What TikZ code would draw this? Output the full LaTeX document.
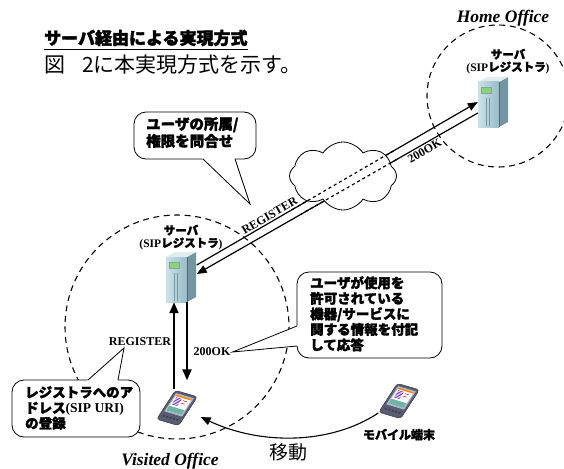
\documentclass[tikz,border=0pt]{standalone}
\usepackage{fontspec}
\setmainfont{Liberation Serif}
\newfontfamily\jp{Noto Sans CJK JP}[BoldFeatures={FakeBold=2}]
\usetikzlibrary{arrows.meta,calc,positioning,shapes.symbols}

\definecolor{srvlight}{RGB}{204,226,232}
\definecolor{srvmid}{RGB}{150,188,199}
\definecolor{srvside}{RGB}{116,150,162}
\definecolor{srvtop}{RGB}{226,236,239}
\definecolor{srvpanel}{RGB}{140,158,164}
\definecolor{srvlcd}{RGB}{136,214,112}
\definecolor{pdabody}{RGB}{88,92,116}
\definecolor{pdarim}{RGB}{176,180,196}
\definecolor{pdateal}{RGB}{112,178,166}

\tikzset{
  office/.style={line width=1.1pt, dash pattern=on 6pt off 4.5pt},
  msg/.style={line width=1.2pt},
  msgtip/.style={msg, -{Triangle[length=10pt,width=8pt]}},
  flow/.style={line width=2pt, -{Triangle[length=11pt,width=9pt]}},
  move/.style={line width=1.1pt, -{Triangle[length=10pt,width=8pt]}},
  bubble/.style={line width=0.8pt, rounded corners=12pt, fill=white},
  bubbleline/.style={line width=0.8pt},
  tag/.style={font=\bfseries\fontsize{12}{12}\selectfont, inner sep=2pt},
  note/.style={font=\jp\bfseries\fontsize{13.5}{15.5}\selectfont, align=left,
    inner sep=0pt, anchor=north west},
  srvtag/.style={font=\bfseries\fontsize{11.5}{12.5}\selectfont, align=center, inner sep=0pt},
  officetag/.style={font=\bfseries\itshape\fontsize{17.5}{18}\selectfont, inner sep=0pt},
  box/.style={inner sep=0pt, minimum width=#1},
}

% tower server around a node centre
\def\tower(#1){%
  \begin{scope}[shift={(#1)}]
    \fill[srvside] (6,-20) -- (15,-25) -- (15,20) -- (6,25) -- cycle;
    \fill[srvtop] (-15,-20) -- (-6,-25) -- (15,-25) -- (6,-20) -- cycle;
    \shade[left color=srvlight, right color=srvmid] (-15,-20) rectangle (6,25);
    \fill[srvpanel] (-12,-15) rectangle (-1,-8);
    \fill[srvlcd] (-11,-14) rectangle (-2,-9);
    \draw[srvmid!80!black, line width=0.3pt] (-7,-4) -- (-7,24) (-4,-4) -- (-4,24);
    \draw[srvside!70!black, line width=0.3pt] (6,-20) -- (6,25);
  \end{scope}}

% handheld terminal, slanted
\def\pda(#1){%
  \begin{scope}[shift={(#1)}, cm={0.85,-0.25,0.55,0.85,(0,0)}]
    \fill[pdabody, rounded corners=3pt] (-13,-17) rectangle (13,17);
    \draw[black!80, line width=0.4pt, rounded corners=3pt] (-13,-17) rectangle (13,17);
    \fill[pdarim] (-10.5,-14.5) rectangle (10.5,7);
    \fill[white] (-9,-13) rectangle (9,5.5);
    \fill[pdateal] (-9,0) rectangle (9,5.5);
    \fill[orange] (-9,-13) rectangle (9,-11.5);
    \foreach \v in {-10,-8.5,...,-2} \draw[blue!70!red, line width=0.5pt] (-7.5,\v) -- (-1,\v);
    \draw[red!80!black, line width=0.5pt] (1,-9) -- (6,-9) (1,-6) -- (5,-6);
    \foreach \u in {-8,-4,...,8} \fill[black!75] (\u,11.5) circle (1.4);
  \end{scope}}

% speech bubble: corners, tail base, tail tip
\def\bubble(#1)(#2)(#3)(#4)(#5){%
  \draw[bubble] (#1) rectangle (#2);
  \fill[white] ($(#3)!-2pt!(#5)$) -- (#5) -- ($(#4)!-2pt!(#5)$) -- cycle;
  \draw[bubbleline] (#3) -- (#5) -- (#4);}

\begin{document}
\begin{tikzpicture}[x=1pt,y=-1pt]
  \useasboundingbox (0,0) rectangle (564,468);

  %%%%% heading %%%%%
  \node[anchor=west, inner sep=0pt, font=\jp\bfseries\fontsize{17}{17}\selectfont]
    (title) at (44,38) {サーバ経由による実現方式};
  \draw[line width=1.6pt] ($(title.south west)+(0,3)$) -- ($(title.south east)+(0,3)$);
  \node[anchor=west, inner sep=0pt, font=\jp\fontsize{21}{21}\selectfont]
    (subtitle) at (44,65) {図\hspace{0.8em}2に本実現方式を示す。};

  %%%%% offices %%%%%
  \draw[office] (177,327) circle (112);
  \draw[office] (498,96) circle (71);
  \node[officetag] (home) at (503,18) {Home Office};
  \node[officetag] (visited) at (170,461) {Visited Office};

  %%%%% devices %%%%%
  \node[box=31, minimum height=50] (vsrv) at (181,277) {};
  \node[box=30, minimum height=52] (hsrv) at (493,102) {};
  \node[box=41, minimum height=35] (vpda) at (177,408) {};
  \node[box=41, minimum height=35] (mpda) at (399,401) {};
  \tower(vsrv)
  \tower(hsrv)
  \pda(vpda)
  \pda(mpda)

  \node[srvtag, above=2pt of vsrv] (vsrvtag) {{\jp サーバ}\\(SIP{\jp レジストラ})};
  \node[srvtag, above=2pt of hsrv, xshift=15pt] (hsrvtag) {{\jp サーバ}\\(SIP{\jp レジストラ})};
  \node[font=\jp\bfseries\fontsize{12}{12}\selectfont, inner sep=0pt, below=10pt of mpda]
    (mtag) {モバイル端末};

  %%%%% registration across the net %%%%%
  \coordinate (regA) at ($(vsrv.east)+(0,-12)$);
  \coordinate (regB) at (hsrv.west);
  \coordinate (okA) at ($(hsrv.west)+(0,11)$);
  \coordinate (okB) at ($(vsrv.east)+(0,-3)$);
  \draw[msgtip] (regA) -- (regB);
  \draw[msgtip] (okA) -- (okB);
  \node[cloud, cloud puffs=8, cloud puff arc=115, aspect=1.5, draw, line width=0.8pt,
    fill=white, minimum width=107, minimum height=68, inner sep=0pt] (net) at (343,176) {};
  \draw[msg, dashed] ($(regA)!0.34!(regB)$) -- ($(regA)!0.70!(regB)$);
  \draw[msg, dashed] ($(okA)!0.29!(okB)$) -- ($(okA)!0.63!(okB)$);
  \path (regA) -- (regB) node[tag, pos=0.27, sloped, above] (reg1) {REGISTER};
  \path (okB) -- (okA) node[tag, pos=0.80, sloped, below] (ok1) {200OK};

  %%%%% registration in the office %%%%%
  \draw[flow] ($(vsrv.south |- vpda.north)+(-7,-1)$) -- ($(vsrv.south)+(-7,0)$);
  \draw[flow] ($(vsrv.south)+(6,0)$) -- ($(vsrv.south |- vpda.north)+(6,-10)$);
  \node[tag] (reg2) at (140,342) {REGISTER};
  \node[tag] (ok2) at (212,352) {200OK};

  %%%%% moving terminal %%%%%
  \draw[move] ($(mpda.west)+(0,12)$) .. controls (330,445) and (260,445) .. ($(vpda.east)+(3,9)$);
  \node[font=\jp\fontsize{19}{19}\selectfont, inner sep=0pt] (moved) at (288,452) {移動};

  %%%%% notes %%%%%
  \coordinate (asktip) at (250,204);
  \coordinate (addrtip) at (124,348);
  \bubble(134,112)(256,159)(203,159)(235,159)(asktip)
  \node[note, font=\jp\bfseries\fontsize{14.5}{17}\selectfont] (ask) at (146,117) {ユーザの所属/\\権限を問合せ};
  \bubble(297,272)(442,358)(297,326)(297,346)(ok2.east)
  \node[note] (reply) at (310,276) {ユーザが使用を\\許可されている\\機器/サービスに\\関する情報を付記\\して応答};
  \bubble(12,380)(140,437)(88,380)(118,380)(addrtip)
  \node[note] (addr) at (25,386) {レジストラへのア\\ドレス{\rmfamily(SIP URI)}\\の登録};
\end{tikzpicture}
\end{document}
